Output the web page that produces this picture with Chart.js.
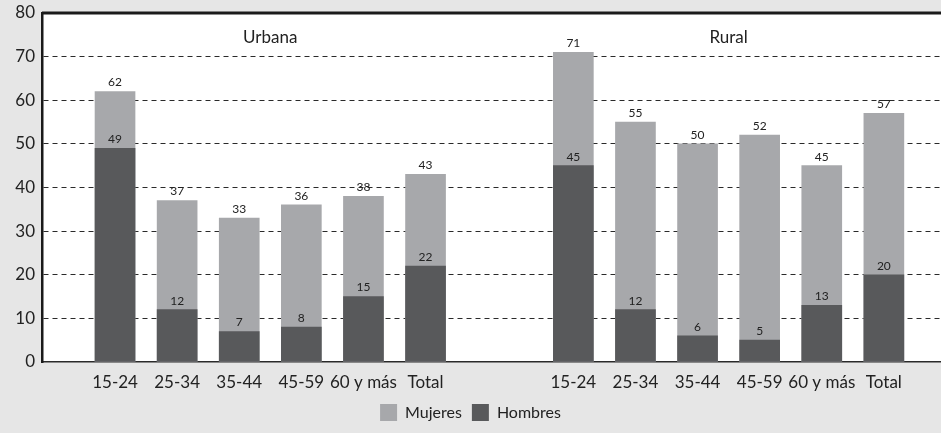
<!DOCTYPE html>
<html>
<head>
<meta charset="utf-8">
<script src="https://cdn.jsdelivr.net/npm/chart.js@4"></script>
<style>
  html, body { margin:0; padding:0; background:#e6e6e6; }
  canvas { display:block; }
</style>
</head>
<body>
<canvas id="chart" width="941" height="433"></canvas>
<script>
const categories = ['15-24', '25-34', '35-44', '45-59', '60 y más', 'Total'];
const groups = ['Urbana', 'Rural'];
const urbanaMujeres = [62, 37, 33, 36, 38, 43];
const urbanaHombres = [49, 12, 7, 8, 15, 22];
const ruralMujeres = [71, 55, 50, 52, 45, 57];
const ruralHombres = [45, 12, 6, 5, 13, 20];
const yTicks = [0, 10, 20, 30, 40, 50, 60, 70, 80];

const GROUP_GAP = 2.38;   // distance between last urbana slot and first rural slot
const FONT = "Lato, 'Open Sans', sans-serif";
const COLORS = { mujeres:'#a7a8ab', hombres:'#58595b', text:'#222', frame:'#1a1a1a' };

// slot index of each category on the x axis
const urbanaPos = categories.map((c, i) => i);
const ruralPos = categories.map((c, i) => categories.length - 1 + GROUP_GAP + i);
const allPos = urbanaPos.concat(ruralPos);
const allLabels = categories.concat(categories);

const toPoints = (pos, vals) => vals.map((v, i) => ({ x: pos[i], y: v }));

const framePlugin = {
  id: 'frame',
  beforeDraw(chart) {
    const { ctx, chartArea: a } = chart;
    ctx.save();
    ctx.fillStyle = '#fff';
    ctx.fillRect(a.left, a.top, a.right - a.left, a.bottom - a.top);
    ctx.restore();
  },
  afterDatasetsDraw(chart) {
    const { ctx, chartArea: a, scales } = chart;
    ctx.save();
    // top border
    ctx.strokeStyle = COLORS.frame; ctx.lineWidth = 3;
    ctx.beginPath(); ctx.moveTo(a.left, a.top); ctx.lineTo(a.right, a.top); ctx.stroke();
    // value labels
    ctx.fillStyle = COLORS.text;
    ctx.font = '12px ' + FONT;
    ctx.textAlign = 'center'; ctx.textBaseline = 'bottom';
    chart.data.datasets.forEach((ds, di) => {
      const meta = chart.getDatasetMeta(di);
      meta.data.forEach((bar, i) => {
        ctx.fillText(String(ds.data[i].y), bar.x, bar.y - 3);
      });
    });
    // group titles
    ctx.font = '17px ' + FONT;
    ctx.textBaseline = 'middle';
    const mid = p => (p[0] + p[p.length - 1]) / 2;
    [urbanaPos, ruralPos].forEach((p, gi) => {
      ctx.fillText(groups[gi], scales.x.getPixelForValue(mid(p)), a.top + 25);
    });
    ctx.restore();
  }
};

new Chart(document.getElementById('chart'), {
  type: 'bar',
  data: {
    datasets: [
      { label:'Hombres', data: toPoints(allPos, urbanaHombres.concat(ruralHombres)), backgroundColor: COLORS.hombres, barThickness: 40, grouped: false },
      { label:'Mujeres', data: toPoints(allPos, urbanaMujeres.concat(ruralMujeres)), backgroundColor: COLORS.mujeres, barThickness: 40, grouped: false }
    ]
  },
  options: {
    responsive: false, animation: false, devicePixelRatio: 1,
    layout: { padding: { top: 0, right: 0, bottom: 2, left: 0 } },
    plugins: {
      tooltip: { enabled: false },
      legend: {
        position: 'bottom', reverse: true,
        labels: { boxWidth: 17, boxHeight: 17, padding: 10, color: COLORS.text, font: { family: FONT, size: 16 } }
      }
    },
    scales: {
      x: {
        type: 'linear', offset: false,
        min: -1.176, max: 13.30,
        grid: { display: false, offset: false },
        border: { display: true, color: '#2a2a2a', width: 1.5 },
        afterBuildTicks: s => { s.ticks = allPos.map(v => ({ value: v })); },
        afterFit: s => { s.height = 32; },
        ticks: {
          autoSkip: false, maxRotation: 0, padding: 2,
          color: COLORS.text, font: { family: FONT, size: 17 },
          callback: (v, i) => allLabels[i]
        }
      },
      y: {
        min: 0, max: 80,
        afterBuildTicks: s => { s.ticks = yTicks.map(v => ({ value: v })); },
        afterFit: s => { s.width = 42; s.paddingTop = 13; },
        grid: {
          drawTicks: false, lineWidth: 1,
          color: c => (c.tick && (c.tick.value === 0 || c.tick.value === 80)) ? 'rgba(0,0,0,0)' : '#2a2a2a'
        },
        border: { display: true, color: COLORS.frame, width: 2.5, dash: [5, 4] },
        ticks: { padding: 7, color: COLORS.text, font: { family: FONT, size: 17 } }
      }
    }
  },
  plugins: [framePlugin]
});
</script>
</body>
</html>
